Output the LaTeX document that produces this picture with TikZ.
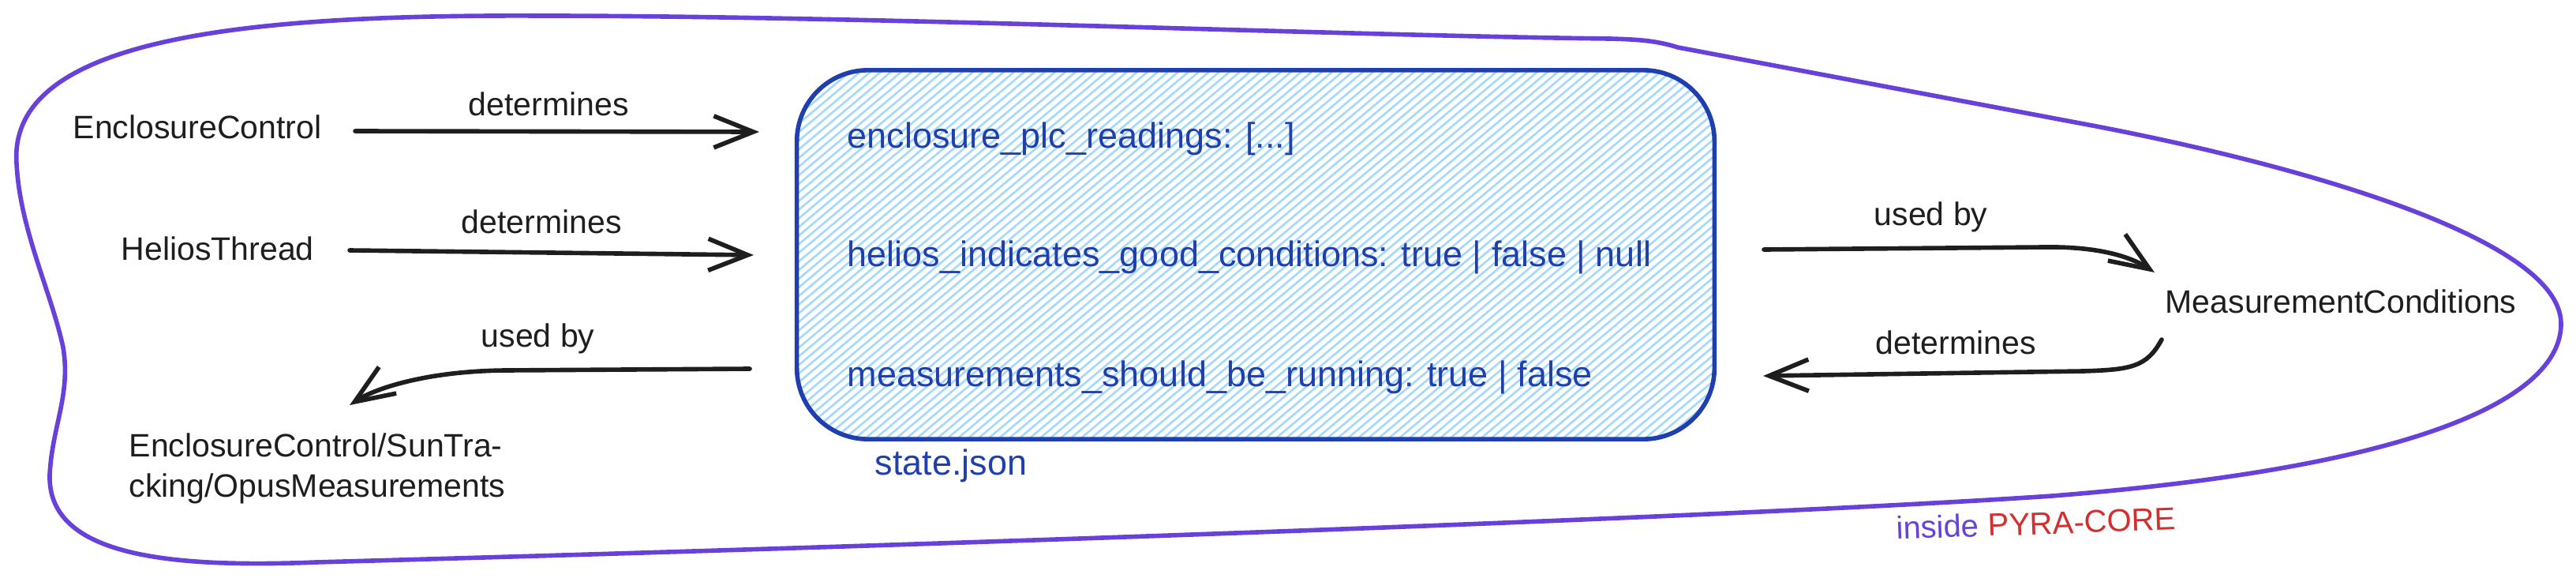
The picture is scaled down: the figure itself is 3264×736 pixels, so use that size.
\documentclass[tikz,border=0pt]{standalone}
\usepackage{fontspec}
\setmainfont{Liberation Sans}
\usetikzlibrary{arrows.meta}
\definecolor{pviolet}{HTML}{6741D9}
\definecolor{sblue}{HTML}{1F3FAE}
\definecolor{hatchblue}{HTML}{A5D8FF}
\definecolor{pred}{HTML}{D32F2F}
\definecolor{ink}{HTML}{1E1E1E}
\begin{document}
\begin{tikzpicture}[x=0.01cm, y=-0.01cm,
  lbl/.style={font=\fontsize{11.67}{14.5}\selectfont, inner sep=0pt, anchor=base west, text=ink},
  bluetxt/.style={font=\fontsize{12.8}{15}\selectfont, inner sep=0pt, anchor=base west, text=sblue},
  conn/.style={draw=ink, line width=1.6pt, line cap=round, line join=round, -{Straight Barb[length=5mm,width=4mm]}},
  outline/.style={draw=pviolet, line width=1.6pt, line join=round},
  statebox/.style={draw=sblue, line width=1.6pt, rounded corners=0.9cm, minimum width=11.62cm, minimum height=4.67cm, inner sep=0pt},
  hatch/.style={hatchblue, line width=0.75pt}]
\useasboundingbox (0,0) rectangle (3264,736);

% outer boundary
\draw[outline] (21,207) .. controls (10,50) and (300,18) .. (687,20)
  .. controls (1100,20) and (1700,45) .. (2040,49)
  .. controls (2080,50) and (2100,52) .. (2126,60)
  -- (2630,155)
  .. controls (2900,205) and (3245,300) .. (3245,410)
  .. controls (3245,500) and (3080,590) .. (2600,628)
  .. controls (2200,655) and (1200,690) .. (400,712)
  .. controls (200,720) and (60,700) .. (63,601)
  .. controls (66,540) and (90,500) .. (80,440)
  .. controls (65,370) and (25,290) .. cycle;

% hatch fill of the state box
\begin{scope}
  \clip[rounded corners=0.9cm] (1010,89) rectangle (2172,556);
  \foreach \c in {380,393,...,2200} \draw[hatch] (\c,600) -- ++(700,-588);
\end{scope}
\node[statebox] (state) at (1591,322.5) {};

% texts inside the box
\node[bluetxt] (t1) at (1073,187) {enclosure\_plc\_readings: [...]};
\node[bluetxt] (t2) at (1073,337) {helios\_indicates\_good\_conditions: true | false | null};
\node[bluetxt] (t3) at (1073,489) {measurements\_should\_be\_running: true | false};
\node[bluetxt] (sj) at (1108,601) {state.json};

% left and right nodes
\node[lbl] (ec) at (92,175) {EnclosureControl};
\node[lbl] (ht) at (153,329) {HeliosThread};
\node[lbl, anchor=north west, align=left] (cons) at (163,548) {EnclosureControl/SunTra-\\cking/OpusMeasurements};
\node[lbl] (mc) at (2743,396) {MeasurementConditions};

% arrow labels
\node[lbl] (l1) at (593,146) {determines};
\node[lbl] (l2) at (584,295) {determines};
\node[lbl] (l3) at (609,439) {used by};
\node[lbl] (l4) at (2374,285) {used by};
\node[lbl] (l5) at (2376,448) {determines};

% arrow end points
\coordinate (a1s) at (450,166); \coordinate (a1e) at (962,167);
\coordinate (a2s) at (443,317); \coordinate (a2e) at (955,323);
\coordinate (a3s) at (950,467); \coordinate (a3m) at (640,469); \coordinate (a3e) at (443,513);
\coordinate (a4s) at (2235,316); \coordinate (a4m) at (2590,313); \coordinate (a4e) at (2730,345);
\coordinate (a5s) at (2739,430); \coordinate (a5m) at (2640,470); \coordinate (a5e) at (2234,476);

\draw[conn] (a1s) -- (a1e);
\draw[conn] (a2s) -- (a2e);
\draw[conn] (a3s) -- (a3m) .. controls (540,470) and (475,492) .. (a3e);
\draw[conn] (a4s) -- (a4m) .. controls (2650,312) and (2695,322) .. (a4e);
\draw[conn] (a5s) .. controls (2720,465) and (2700,468) .. (a5m) -- (a5e);

% caption
\node[font=\fontsize{11.38}{14}\selectfont, inner sep=0pt, anchor=base west, rotate=2, text=pviolet] (cap) at (2403,683) {inside \textcolor{pred}{PYRA-CORE}};
\end{tikzpicture}
\end{document}
